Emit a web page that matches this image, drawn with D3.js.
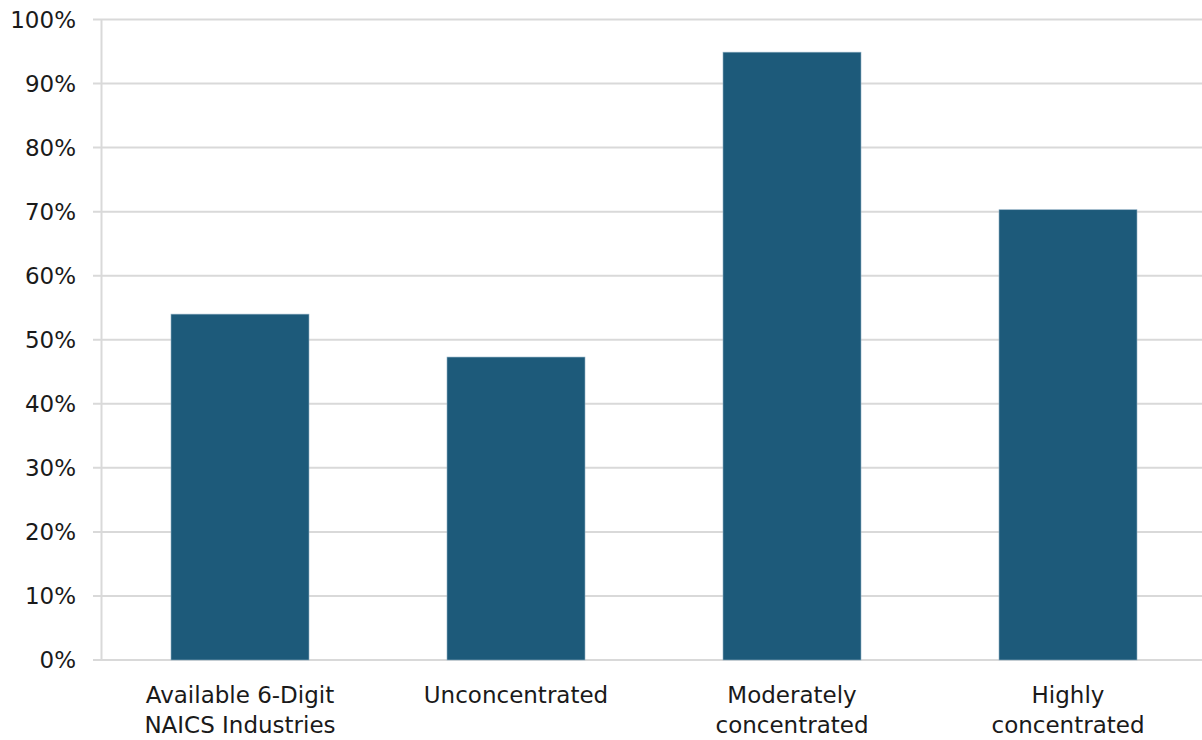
<!DOCTYPE html>
<html>
<head>
<meta charset="utf-8">
<script src="https://cdn.jsdelivr.net/npm/d3@7"></script>
<style>
  html, body { margin: 0; padding: 0; background: #fff; }
  svg { display: block; }
</style>
</head>
<body>
<svg id="chart" width="1202" height="740"></svg>
<script>
// Share of industries by concentration level
const categories = [
  ["Available 6-Digit", "NAICS Industries"],
  ["Unconcentrated"],
  ["Moderately", "concentrated"],
  ["Highly", "concentrated"]
];
const values = [54.0, 47.3, 94.9, 70.3];
const yTicks = [0, 10, 20, 30, 40, 50, 60, 70, 80, 90, 100];

const svg = d3.select("#chart");
const font = "'DejaVu Sans', sans-serif";
const textColor = "#1a1a1a";
const gridColor = "#d9d9d9";
const barColor = "#1d5a7a";

const plotLeft = 101.5, plotRight = 1202;
const y = d3.scaleLinear().domain([0, 100]).range([660, 19.5]);
const x = d3.scaleBand()
  .domain(d3.range(categories.length))
  .range([102, 1206])
  .paddingInner(0.5)
  .paddingOuter(0.25);

// Horizontal gridlines with short tick stubs left of the axis
svg.append("g")
  .selectAll("line")
  .data(yTicks)
  .join("line")
  .attr("x1", 93)
  .attr("x2", plotRight)
  .attr("y1", d => y(d))
  .attr("y2", d => y(d))
  .attr("stroke", gridColor)
  .attr("stroke-width", 2);

// Vertical axis line
svg.append("line")
  .attr("x1", plotLeft).attr("x2", plotLeft)
  .attr("y1", y(100)).attr("y2", y(0))
  .attr("stroke", gridColor)
  .attr("stroke-width", 2);

// Y tick labels
svg.append("g")
  .selectAll("text")
  .data(yTicks)
  .join("text")
  .attr("x", 76)
  .attr("y", d => y(d))
  .attr("dy", "0.35em")
  .attr("text-anchor", "end")
  .attr("font-family", font)
  .attr("font-size", 23)
  .attr("fill", textColor)
  .text(d => d + "%");

// Bars
svg.append("g")
  .selectAll("rect")
  .data(values)
  .join("rect")
  .attr("x", (d, i) => x(i))
  .attr("width", x.bandwidth())
  .attr("y", d => y(d))
  .attr("height", d => y(0) - y(d))
  .attr("fill", barColor)
  .attr("stroke", "#8fb0c4")
  .attr("stroke-width", 0.6);

// Category labels (wrapped onto two lines where needed)
const labels = svg.append("g")
  .selectAll("text")
  .data(categories)
  .join("text")
  .attr("x", (d, i) => x(i) + x.bandwidth() / 2)
  .attr("y", 703)
  .attr("text-anchor", "middle")
  .attr("font-family", font)
  .attr("font-size", 23)
  .attr("fill", textColor);

labels.selectAll("tspan")
  .data(d => d)
  .join("tspan")
  .attr("x", function () { return d3.select(this.parentNode).attr("x"); })
  .attr("dy", (d, i) => i === 0 ? 0 : 30)
  .text(d => d);
</script>
</body>
</html>
